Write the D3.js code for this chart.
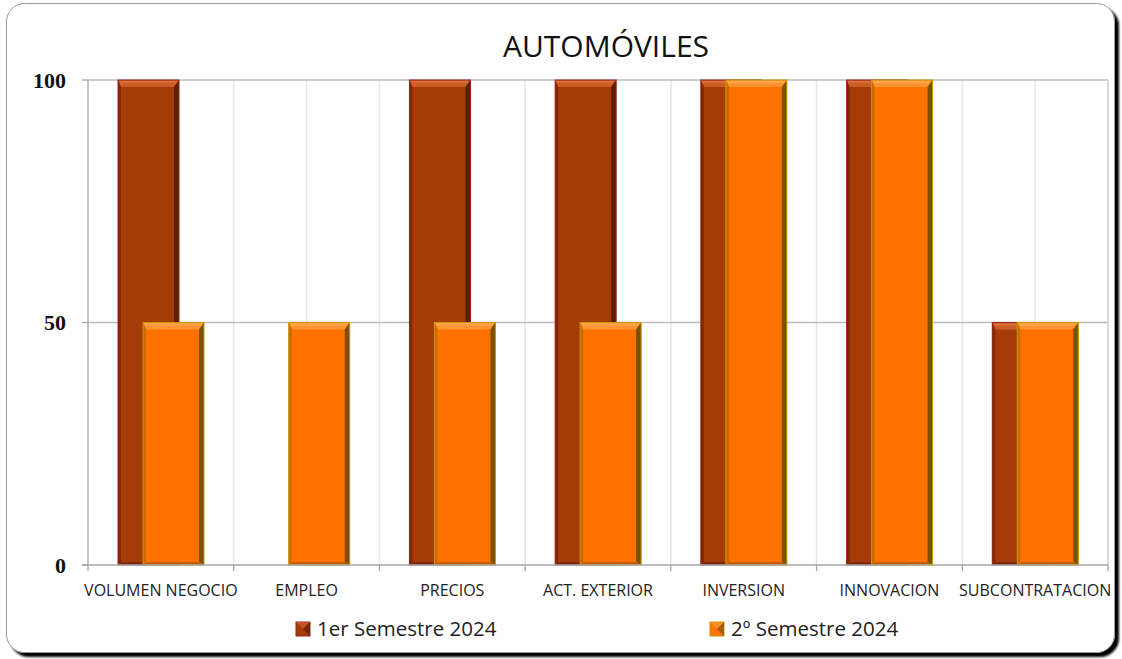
<!DOCTYPE html>
<html>
<head>
<meta charset="utf-8">
<script src="https://cdn.jsdelivr.net/npm/d3@7"></script>
<style>
  html, body { margin: 0; padding: 0; background: #fff; }
  svg { display: block; }
</style>
</head>
<body>
<script>
// Encuesta sector automóviles: saldo por indicador y semestre
const categories = ["VOLUMEN NEGOCIO", "EMPLEO", "PRECIOS", "ACT. EXTERIOR", "INVERSION", "INNOVACION", "SUBCONTRATACION"];
const seriesNames = ["1er Semestre 2024", "2º Semestre 2024"];
const sem1 = [100, 0, 100, 100, 100, 100, 50];
const sem2 = [50, 50, 50, 50, 100, 100, 50];
const yTicks = [0, 50, 100];
const chartTitle = "AUTOMÓVILES";

const W = 1122, H = 659;
const plot = { left: 88, right: 1108, top: 80, bottom: 565 };
const sans = "'Open Sans', 'Noto Sans', sans-serif";

const svg = d3.select("body").append("svg").attr("width", W).attr("height", H);
const defs = svg.append("defs");

// drop shadow for the frame
const f = defs.append("filter").attr("id", "frameShadow").attr("x", "-5%").attr("y", "-5%").attr("width", "110%").attr("height", "110%");
f.append("feGaussianBlur").attr("in", "SourceAlpha").attr("stdDeviation", 1.3);
f.append("feOffset").attr("dx", 3.5).attr("dy", 3.5).attr("result", "o");
const m = f.append("feMerge");
m.append("feMergeNode");
m.append("feMergeNode").attr("in", "SourceGraphic");

svg.append("rect")
  .attr("x", 6.5).attr("y", 3.5).attr("width", 1108).attr("height", 649)
  .attr("rx", 18).attr("ry", 18)
  .attr("fill", "#fff").attr("stroke", "#9a9a9a").attr("stroke-width", 1)
  .attr("filter", "url(#frameShadow)");

const x = d3.scaleBand().domain(categories).range([plot.left, plot.right]).paddingInner(0).paddingOuter(0);
const y = d3.scaleLinear().domain([0, 100]).range([plot.bottom, plot.top]);

// vertical gridlines at category edges and centers
const vgrid = [];
categories.forEach((c, i) => { vgrid.push(x(c) + x.bandwidth() / 2); if (i > 0) vgrid.push(x(c)); });
svg.append("g").selectAll("line").data(vgrid).join("line")
  .attr("x1", d => d).attr("x2", d => d)
  .attr("y1", plot.top).attr("y2", plot.bottom)
  .attr("stroke", "#e6e6e6").attr("stroke-width", 1.5);

// horizontal gridlines
svg.append("g").selectAll("line").data(yTicks.filter(t => t > 0)).join("line")
  .attr("x1", plot.left).attr("x2", plot.right)
  .attr("y1", d => y(d)).attr("y2", d => y(d))
  .attr("stroke", "#bdbdbd").attr("stroke-width", 1.3);

// right border of plot
svg.append("line").attr("x1", plot.right).attr("x2", plot.right)
  .attr("y1", plot.top).attr("y2", plot.bottom).attr("stroke", "#c8c8c8").attr("stroke-width", 1.3);

// bevelled bar styles
const styles = [
  { main: "#A53B07", top: "#CB5E28", topHi: "#D86E38", right: "#5C1F04", left: "#7E2A06", bottom: "#7E2A06", stroke: "#9E2020" },
  { main: "#FF7200", top: "#FF9330", topHi: "#FFA64D", right: "#7A5204", left: "#C86A00", bottom: "#C25E00", stroke: "#C49A00" }
];
const bw = 61, offsets = [30, 55];

function drawBar(g, x0, val, st) {
  const y0 = y(val), y1 = y(0), x1 = x0 + bw;
  if (y1 - y0 < 1) return;
  const b = 7, rb = 5, lb = 3;
  g.append("rect").attr("x", x0).attr("y", y0).attr("width", bw).attr("height", y1 - y0).attr("fill", st.main);
  g.append("path").attr("d", `M${x0},${y0}L${x1},${y0}L${x1 - rb},${y0 + b}L${x0 + lb},${y0 + b}Z`).attr("fill", st.top);
  g.append("path").attr("d", `M${x0 + 1},${y0 + 1}L${x1 - 1},${y0 + 1}L${x1 - 3},${y0 + 3}L${x0 + 2},${y0 + 3}Z`).attr("fill", st.topHi);
  g.append("path").attr("d", `M${x1},${y0}L${x1},${y1}L${x1 - rb},${y1 - 3}L${x1 - rb},${y0 + b}Z`).attr("fill", st.right);
  g.append("path").attr("d", `M${x0},${y0}L${x0 + lb},${y0 + b}L${x0 + lb},${y1 - 3}L${x0},${y1}Z`).attr("fill", st.left);
  g.append("path").attr("d", `M${x0},${y1}L${x0 + lb},${y1 - 3}L${x1 - rb},${y1 - 3}L${x1},${y1}Z`).attr("fill", st.bottom);
  g.append("rect").attr("x", x0).attr("y", y0).attr("width", bw).attr("height", y1 - y0)
    .attr("fill", "none").attr("stroke", st.stroke).attr("stroke-width", 1);
}

const bars = svg.append("g");
categories.forEach((c, i) => {
  [sem1, sem2].forEach((s, k) => {
    drawBar(bars, x(c) + offsets[k], s[i], styles[k]);
  });
});

// axes
const axisColor = "#a6a6a6";
svg.append("line").attr("x1", plot.left).attr("x2", plot.left).attr("y1", plot.top).attr("y2", plot.bottom)
  .attr("stroke", axisColor).attr("stroke-width", 1.3);
svg.append("line").attr("x1", plot.left - 6).attr("x2", plot.right).attr("y1", plot.bottom).attr("y2", plot.bottom)
  .attr("stroke", axisColor).attr("stroke-width", 1.3);
svg.append("g").selectAll("line").data(yTicks).join("line")
  .attr("x1", plot.left - 6).attr("x2", plot.left).attr("y1", d => y(d)).attr("y2", d => y(d))
  .attr("stroke", axisColor).attr("stroke-width", 1.3);
const xt = categories.map(c => x(c)).concat([plot.right]);
svg.append("g").selectAll("line").data(xt).join("line")
  .attr("x1", d => d).attr("x2", d => d).attr("y1", plot.bottom).attr("y2", plot.bottom + 6)
  .attr("stroke", axisColor).attr("stroke-width", 1.3);

svg.append("g").selectAll("text").data(yTicks).join("text")
  .attr("x", 66).attr("y", d => y(d)).attr("dy", "0.35em")
  .attr("text-anchor", "end")
  .attr("font-family", "'Liberation Serif', 'DejaVu Serif', serif")
  .attr("font-weight", "bold").attr("font-size", 22).attr("fill", "#111")
  .text(d => d);

svg.append("g").selectAll("text").data(categories).join("text")
  .attr("x", d => x(d) + x.bandwidth() / 2).attr("y", 596)
  .attr("text-anchor", "middle")
  .attr("font-family", sans)
  .attr("font-size", 16).attr("fill", "#222")
  .text(d => d);

svg.append("text").attr("x", 606).attr("y", 57).attr("text-anchor", "middle")
  .attr("font-family", sans)
  .attr("font-size", 30).attr("fill", "#111").text(chartTitle);

// legend
const legX = [296, 710];
seriesNames.forEach((n, k) => {
  const g = svg.append("g");
  const st = styles[k];
  g.append("rect").attr("x", legX[k]).attr("y", 622).attr("width", 14).attr("height", 14)
    .attr("fill", st.main).attr("stroke", st.stroke).attr("stroke-width", 1);
  g.append("path").attr("d", `M${legX[k]},622L${legX[k] + 14},622L${legX[k] + 7},629Z`).attr("fill", st.top).attr("opacity", 0.8);
  g.append("path").attr("d", `M${legX[k] + 14},622L${legX[k] + 14},636L${legX[k] + 7},629Z`).attr("fill", st.right).attr("opacity", 0.7);
  g.append("text").attr("x", legX[k] + 21).attr("y", 629).attr("dy", "0.35em")
    .attr("font-family", sans)
    .attr("font-size", 20.5).attr("fill", "#222").text(n);
});
</script>
</body>
</html>
